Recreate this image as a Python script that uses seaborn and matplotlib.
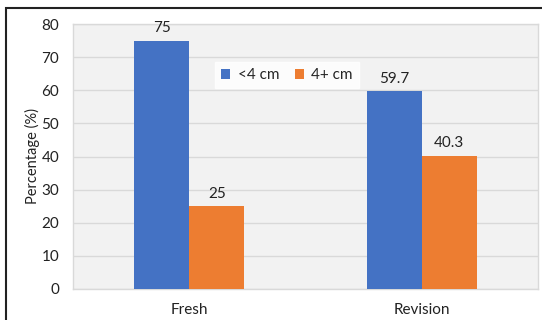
import seaborn as sns
import pandas as pd
import matplotlib.pyplot as plt
from matplotlib.patches import Rectangle

categories = ['Fresh', 'Revision']
groups = ['<4 cm', '4+ cm']
under4 = [75, 59.7]
over4 = [25, 40.3]
colors = ['#4472C4', '#ED7D31']

df = pd.DataFrame({
    'Type': categories * 2,
    'Size': [groups[0]] * 2 + [groups[1]] * 2,
    'Percentage': under4 + over4,
})

sns.set_style('white')
plt.rcParams['font.family'] = ['Lato', 'DejaVu Sans']

fig = plt.figure(figsize=(5.42, 3.2), dpi=100)
ax = fig.add_axes([73 / 542, 31 / 320, 465 / 542, 265 / 320])
ax.set_facecolor('#F2F2F2')

sns.barplot(data=df, x='Type', y='Percentage', hue='Size', hue_order=groups,
            palette=colors, width=0.475, gap=0, saturation=1, linewidth=0,
            ax=ax, zorder=3)

ax.set_ylim(0, 80)
ax.set_yticks(range(0, 81, 10))
ax.grid(axis='y', color='#D9D9D9', linewidth=1, zorder=0)
ax.set_axisbelow(True)
ax.tick_params(axis='both', length=0, labelsize=11, colors='#222222', pad=10)
ax.tick_params(axis='x', pad=10)
for s in ax.spines.values():
    s.set_color('#D9D9D9')
    s.set_linewidth(1)
ax.set_xlabel('')
ax.set_ylabel('Percentage (%)', fontsize=10.5, color='#222222', labelpad=1)

# data labels above bars
for cont in ax.containers:
    ax.bar_label(cont, labels=[f'{v:g}' for v in cont.datavalues],
                 fontsize=11, color='#222222', padding=4)

leg = ax.legend(loc='upper center', bbox_to_anchor=(0.46, 0.885), ncol=2,
                frameon=True, fontsize=11, handlelength=0.6, handleheight=0.6,
                handletextpad=0.5, columnspacing=1.0, borderpad=0.4, fancybox=False)
leg.get_frame().set_facecolor('white')
leg.get_frame().set_edgecolor('white')

fig.patches.append(Rectangle((6 / 542, -0.1), 1.2, (320 - 8) / 320 + 0.1,
                             transform=fig.transFigure, fill=False,
                             edgecolor='#222222', linewidth=1.5))

fig.savefig('out.png', dpi=100)
